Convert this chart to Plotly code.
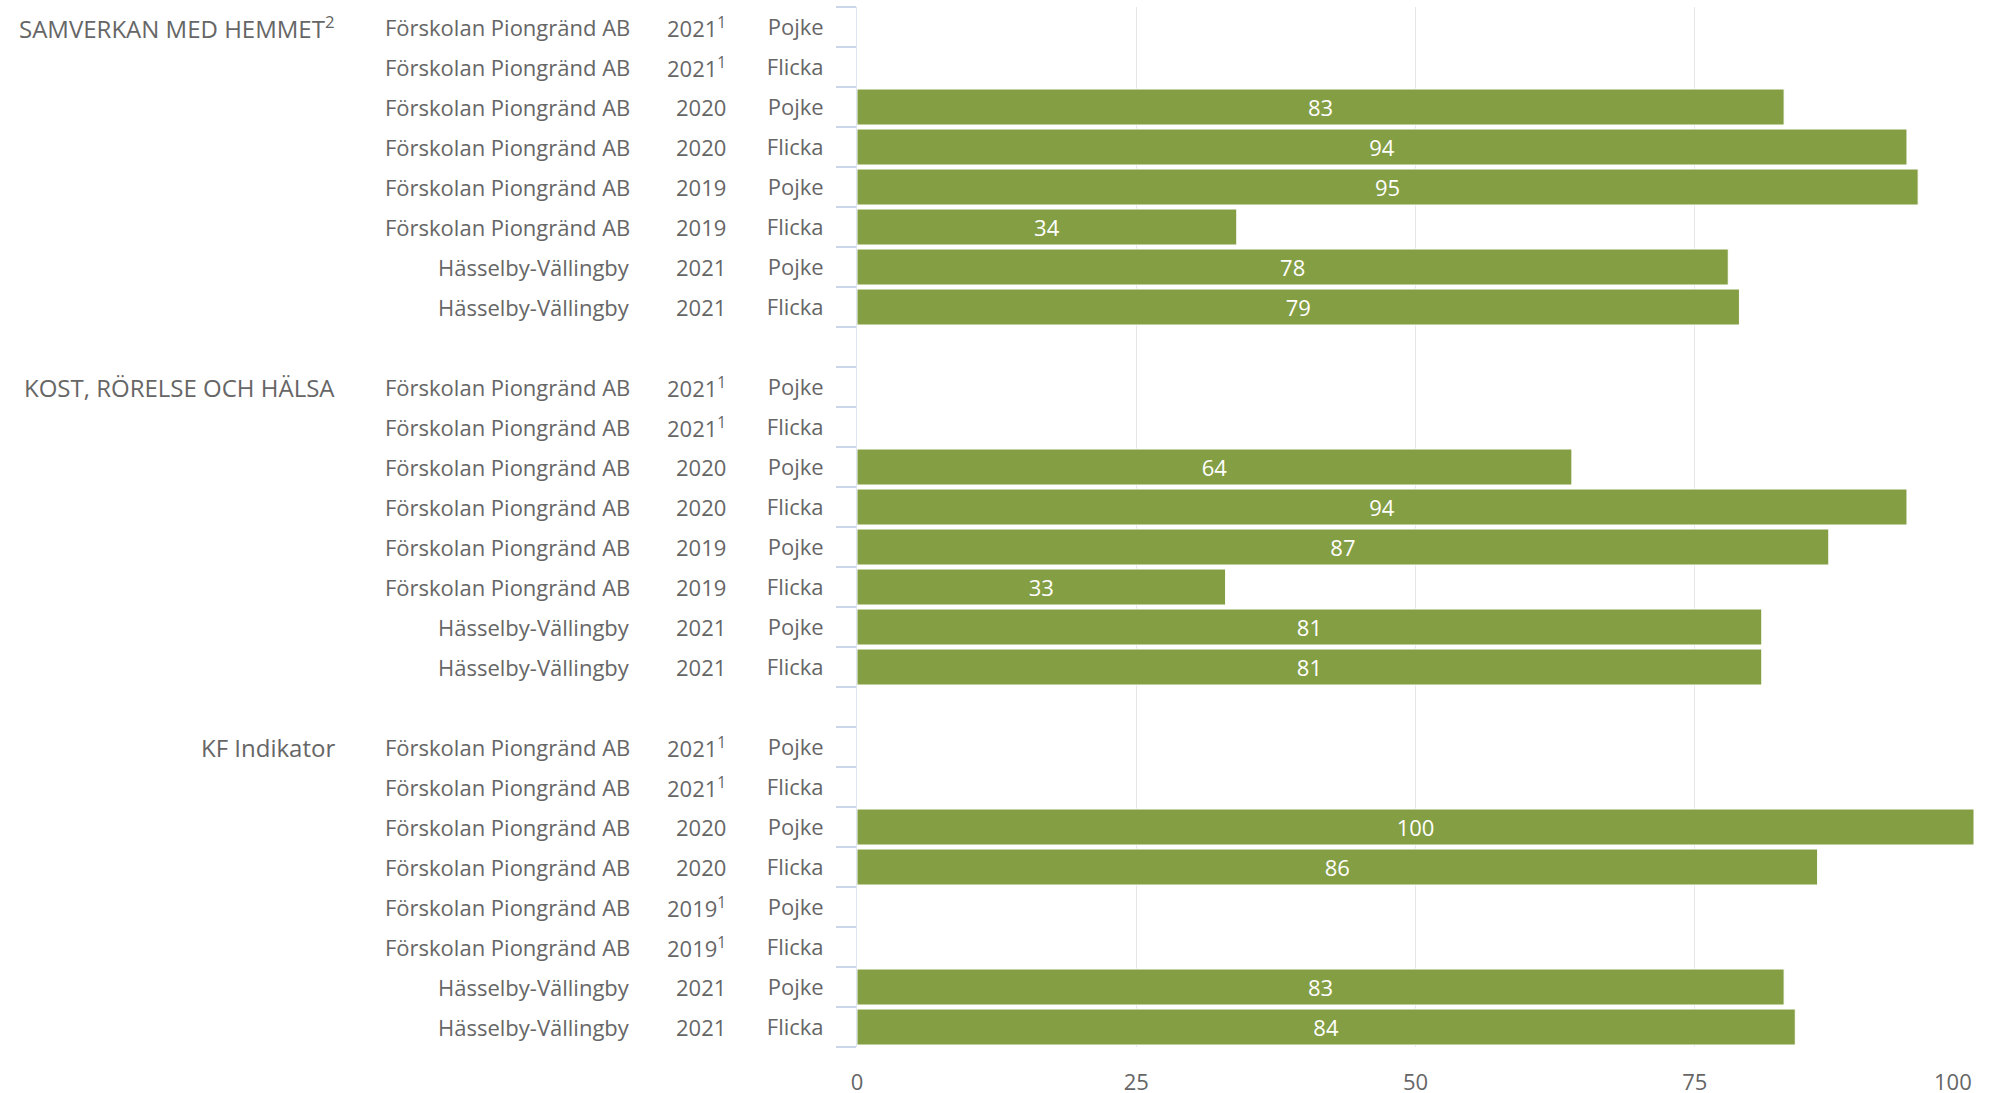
import plotly.graph_objects as go

# ---------------- data ----------------
group_names = ["SAMVERKAN MED HEMMET<sup>2</sup>", "KOST, RÖRELSE OCH HÄLSA", "KF Indikator"]

orgs = ["Förskolan Piongränd AB", "Förskolan Piongränd AB", "Förskolan Piongränd AB",
        "Förskolan Piongränd AB", "Förskolan Piongränd AB", "Förskolan Piongränd AB",
        "Hässelby-Vällingby", "Hässelby-Vällingby"]
genders = ["Pojke", "Flicka", "Pojke", "Flicka", "Pojke", "Flicka", "Pojke", "Flicka"]

years_samverkan = ["2021<sup>1</sup>", "2021<sup>1</sup>", "2020", "2020", "2019", "2019", "2021", "2021"]
years_kost = ["2021<sup>1</sup>", "2021<sup>1</sup>", "2020", "2020", "2019", "2019", "2021", "2021"]
years_kf = ["2021<sup>1</sup>", "2021<sup>1</sup>", "2020", "2020", "2019<sup>1</sup>", "2019<sup>1</sup>", "2021", "2021"]

values_samverkan = [None, None, 83, 94, 95, 34, 78, 79]
values_kost = [None, None, 64, 94, 87, 33, 81, 81]
values_kf = [None, None, 100, 86, None, None, 83, 84]

x_ticks = [0, 25, 50, 75, 100]

# ---------------- build ----------------
years_all = [years_samverkan, years_kost, years_kf]
values_all = [values_samverkan, values_kost, values_kf]

TEXT = "#666666"
FONT = "Open Sans"
BAR = "#849e44"

cat_ids, cat_text, xs, labels = [], [], [], []
annotations = []
for g, gname in enumerate(group_names):
    if g > 0:
        gid = f"gap{g}"
        cat_ids.append(gid)
        cat_text.append("")
        xs.append(None)
        labels.append("")
    for i in range(len(genders)):
        cid = f"g{g}r{i}"
        cat_ids.append(cid)
        cat_text.append(genders[i])
        v = values_all[g][i]
        xs.append(v)
        labels.append("" if v is None else str(v))
        annotations.append(dict(xref="paper", yref="y", x=-0.2014, y=cid, text=orgs[i],
                                xanchor="right", yanchor="middle", showarrow=False,
                                font=dict(family=FONT, size=22, color=TEXT)))
        annotations.append(dict(xref="paper", yref="y", x=-0.1155, y=cid, text=years_all[g][i],
                                xanchor="right", yanchor="middle", showarrow=False,
                                font=dict(family=FONT, size=22, color=TEXT)))
        if i == 0:
            annotations.append(dict(xref="paper", yref="y", x=-0.4655, y=cid, text=gname,
                                    xanchor="right", yanchor="middle", showarrow=False,
                                    font=dict(family=FONT, size=24, color=TEXT)))

# the last x tick label is kept inside the figure (right-aligned at its tick)
tick_text = [str(t) for t in x_ticks]
annotations.append(dict(xref="x", yref="paper", x=x_ticks[-1], y=-0.0327, text=tick_text[-1],
                        xanchor="right", yanchor="middle", showarrow=False,
                        font=dict(family=FONT, size=22, color=TEXT)))
tick_text[-1] = ""

fig = go.Figure(go.Bar(
    x=xs, y=cat_ids, orientation="h",
    marker=dict(color=BAR, line=dict(color="white", width=1)),
    text=labels, textposition="inside", insidetextanchor="middle", textangle=0,
    textfont=dict(family=FONT, size=22, color="white"),
    cliponaxis=False, hoverinfo="skip",
))

fig.update_layout(
    width=1992, height=1093,
    margin=dict(l=857, r=18, t=7, b=46, autoexpand=False),
    paper_bgcolor="white", plot_bgcolor="white",
    bargap=0.1, showlegend=False,
    annotations=annotations,
)
fig.update_xaxes(
    range=[0, 100], tickvals=x_ticks, ticktext=tick_text,
    showgrid=True, gridcolor="#e6e6e6", gridwidth=1, zeroline=False,
    ticks="outside", ticklen=16, tickcolor="rgba(0,0,0,0)",
    ticklabeloverflow="allow", automargin=False,
    tickfont=dict(family=FONT, size=22, color=TEXT), fixedrange=True,
)
fig.update_yaxes(
    type="category", categoryorder="array", categoryarray=cat_ids,
    autorange="reversed",
    tickmode="array", tickvals=cat_ids, ticktext=cat_text,
    tickson="boundaries", ticks="outside", ticklen=20, tickcolor="#ccd6eb", tickwidth=1.5,
    showline=True, linecolor="#dfe5ee", linewidth=1, showgrid=False,
    ticklabelstandoff=28, automargin=False,
    tickfont=dict(family=FONT, size=22, color=TEXT), fixedrange=True,
)

fig.write_html("out.html", config={"displayModeBar": False},
               post_script="document.body.style.margin='0';document.body.style.overflow='hidden';")
